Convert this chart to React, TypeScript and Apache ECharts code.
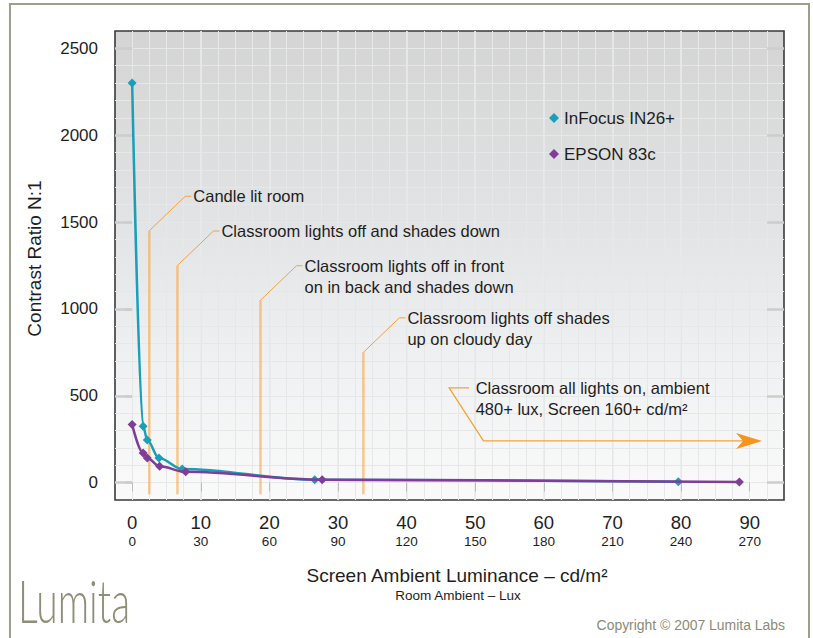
import React, { useEffect, useRef } from 'react';
import * as echarts from 'echarts';

// ---- data ----
const seriesNames = ['InFocus IN26+', 'EPSON 83c'];
const infocusX = [0, 1.6, 2.2, 3.9, 7.3, 26.6, 79.6];
const infocusY = [2300, 324, 246, 142, 79, 17, 5];
const epsonX = [0, 1.6, 2.2, 4.0, 7.8, 27.7, 88.5];
const epsonY = [334, 171, 142, 94, 62, 17, 3];

const xTicks = [0, 10, 20, 30, 40, 50, 60, 70, 80, 90];
const luxTicks = [0, 30, 60, 90, 120, 150, 180, 210, 240, 270];
const yTicks = [0, 500, 1000, 1500, 2000, 2500];

// annotation anchors (data units)
const noteX = [2.5, 6.6, 18.7, 33.7];
const noteTop = [1450, 1250, 1050, 750];
const noteBottom = -67;
const noteText = [
  'Candle lit room',
  'Classroom lights off and shades down',
  'Classroom lights off in front\non in back and shades down',
  'Classroom lights off shades\nup on cloudy day',
];
const arrowText = 'Classroom all lights on, ambient\n480+ lux, Screen 160+ cd/m\u00B2';
const arrowPathX = [49.1, 46.2, 51.2, 91.8];
const arrowPathY = [545, 545, 240, 240];

const FONT = '"Liberation Sans", Arial, Helvetica, sans-serif';
const TEAL = '#1a9fbb';
const PURPLE = '#7e3d98';
const TEXT = '#1e1e1e';
const GRIDLINE = '#e6e7e8';

export default function App() {
  const ref = useRef<HTMLDivElement>(null);

  useEffect(() => {
    if (!ref.current) return;
    const chart = echarts.init(ref.current, null, { renderer: 'svg' });

    const pairs = (xs: number[], ys: number[]) => xs.map((x, i) => [x, ys[i]]);

    const option: any = {
      animation: false,
      backgroundColor: '#ffffff',
      textStyle: { fontFamily: FONT },
      grid: {
        left: 115,
        top: 31,
        right: 29,
        bottom: 138,
        show: true,
        backgroundColor: new echarts.graphic.LinearGradient(0, 0, 0, 1, [
          { offset: 0, color: '#d4d4d4' },
          { offset: 0.4, color: '#e2e3e4' },
          { offset: 0.72, color: '#f0f1f2' },
          { offset: 1, color: '#fafafa' },
        ]),
        borderColor: '#3a3a3a',
        borderWidth: 1.6,
      },
      legend: {
        data: seriesNames,
        orient: 'vertical',
        left: 544,
        top: 103,
        icon: 'diamond',
        itemWidth: 10,
        itemHeight: 10,
        itemGap: 16,
        textStyle: { fontSize: 17, color: TEXT, fontFamily: FONT, lineHeight: 20 },
      },
      xAxis: [
        {
          type: 'value',
          min: -2.5,
          max: 95,
          position: 'bottom',
          axisLine: { show: false },
          axisTick: { show: true, customValues: xTicks, length: 9, lineStyle: { color: '#bcbcbc', width: 1 } },
          axisLabel: {
            customValues: xTicks,
            margin: 12,
            formatter: (v: number) => {
              const i = xTicks.indexOf(v);
              return `{a|${v}}\n{b|${i >= 0 ? luxTicks[i] : ''}}`;
            },
            rich: {
              a: { fontSize: 18.5, lineHeight: 21, color: TEXT, fontFamily: FONT },
              b: { fontSize: 13.5, lineHeight: 16, color: TEXT, fontFamily: FONT },
            },
          },
          splitLine: { show: true, showMinLine: false, showMaxLine: false, lineStyle: { color: '#e9eaeb', width: 1.6 } },
        },
        {
          type: 'value',
          min: -2.5,
          max: 95,
          interval: 2.5,
          position: 'bottom',
          axisLine: { show: false },
          axisTick: { show: false },
          axisLabel: { show: false },
          splitLine: { show: true, showMinLine: false, showMaxLine: false, lineStyle: { color: GRIDLINE, width: 1 } },
        },
      ],
      yAxis: [
        {
          type: 'value',
          min: -100,
          max: 2600,
          position: 'left',
          axisLine: { show: false },
          axisTick: { show: true, customValues: yTicks, length: 7, lineStyle: { color: '#cdcdcd', width: 2.5 } },
          axisLabel: {
            customValues: yTicks,
            margin: 17,
            fontSize: 17,
            color: TEXT,
            fontFamily: FONT,
            padding: [0, 0, 8, 0],
            formatter: (v: number) => String(v),
          },
          splitLine: { show: false },
        },
        {
          type: 'value',
          min: -100,
          max: 2600,
          interval: 100,
          position: 'left',
          axisLine: { show: false },
          axisTick: { show: false },
          axisLabel: { show: false },
          splitLine: { show: true, showMinLine: false, showMaxLine: false, lineStyle: { color: GRIDLINE, width: 1 } },
        },
        {
          type: 'value',
          min: -100,
          max: 2600,
          position: 'left',
          axisLine: { show: false },
          axisTick: { show: true, inside: true, customValues: yTicks, length: 17, lineStyle: { color: '#cdcdcd', width: 2.5 } },
          axisLabel: { show: false, customValues: yTicks },
          splitLine: { show: false },
        },
        {
          type: 'value',
          min: -100,
          max: 2600,
          position: 'right',
          axisLine: { show: false },
          axisTick: { show: true, inside: true, customValues: yTicks, length: 17, lineStyle: { color: '#cdcdcd', width: 2.5 } },
          axisLabel: { show: false, customValues: yTicks },
          splitLine: { show: false },
        },
      ],
      series: [
        {
          name: seriesNames[0],
          type: 'line',
          xAxisIndex: 0,
          yAxisIndex: 0,
          data: pairs(infocusX, infocusY),
          smooth: 0.35,
          smoothMonotone: 'x',
          symbol: 'diamond',
          symbolSize: 9,
          lineStyle: { width: 2.5, color: TEAL },
          itemStyle: { color: TEAL },
          z: 3,
        },
        {
          name: seriesNames[1],
          type: 'line',
          xAxisIndex: 0,
          yAxisIndex: 0,
          data: pairs(epsonX, epsonY),
          smooth: 0.35,
          smoothMonotone: 'x',
          symbol: 'diamond',
          symbolSize: 9,
          lineStyle: { width: 2.5, color: PURPLE },
          itemStyle: { color: PURPLE },
          z: 4,
        },
      ],
    };
    chart.setOption(option);

    const p = (x: number, y: number) =>
      chart.convertToPixel({ xAxisIndex: 0, yAxisIndex: 0 }, [x, y]) as number[];

    const g: any[] = [];
    g.push({
      type: 'rect',
      shape: { x: 10, y: 4, width: 799, height: 700 },
      style: { fill: 'none', stroke: '#9d9f88', lineWidth: 2 },
      silent: true,
      z: 0,
    });

    const noteStyle = {
      fontSize: 16.5,
      fontFamily: FONT,
      fill: TEXT,
      lineHeight: 21,
      textVerticalAlign: 'top',
      verticalAlign: 'top',
      textAlign: 'left',
      align: 'left',
    };

    noteX.forEach((x, i) => {
      const top = p(x, noteTop[i]);
      const bot = p(x, noteBottom);
      g.push({
        type: 'line',
        shape: { x1: top[0], y1: bot[1], x2: top[0], y2: top[1] },
        style: { stroke: 'rgba(249,158,55,0.55)', lineWidth: 2.5 },
        silent: true,
        z: 1,
      });
      const ex = top[0] + 36;
      const ey = top[1] - 34.5;
      g.push({
        type: 'polyline',
        shape: { points: [[top[0], top[1]], [ex, ey], [ex + 6, ey]] },
        style: { stroke: '#f5a138', lineWidth: 1, fill: null },
        silent: true,
        z: 1,
      });
      g.push({
        type: 'text',
        x: ex + 8,
        y: ey - 10.5,
        style: { ...noteStyle, text: noteText[i] },
        silent: true,
        z: 1,
      });
    });

    const ap = arrowPathX.map((x, i) => p(x, arrowPathY[i]));
    const tip = ap[3];
    g.push({
      type: 'polyline',
      shape: { points: [ap[0], ap[1], ap[2], [tip[0] - 18, tip[1]]] },
      style: { stroke: '#f5a138', lineWidth: 1.3, fill: null },
      silent: true,
      z: 1,
    });
    g.push({
      type: 'polygon',
      shape: {
        points: [
          [tip[0], tip[1]],
          [tip[0] - 26, tip[1] - 8],
          [tip[0] - 19, tip[1]],
          [tip[0] - 26, tip[1] + 8],
        ],
      },
      style: { fill: '#f7941d' },
      silent: true,
      z: 1,
    });
    g.push({
      type: 'text',
      x: ap[0][0] + 6.6,
      y: ap[0][1] - 10.5,
      style: { ...noteStyle, text: arrowText },
      silent: true,
      z: 1,
    });

    // axis titles
    g.push({
      type: 'text',
      x: 34,
      y: 258.5,
      rotation: Math.PI / 2,
      style: {
        text: 'Contrast Ratio N:1',
        fontSize: 19,
        fontFamily: FONT,
        fill: TEXT,
        textAlign: 'center',
        align: 'center',
        textVerticalAlign: 'middle',
        verticalAlign: 'middle',
      },
      silent: true,
    });
    g.push({
      type: 'text',
      x: 457,
      y: 575,
      style: {
        text: 'Screen Ambient Luminance \u2013 cd/m\u00B2',
        fontSize: 19,
        fontFamily: FONT,
        fill: TEXT,
        textAlign: 'center',
        align: 'center',
        textVerticalAlign: 'middle',
        verticalAlign: 'middle',
      },
      silent: true,
    });
    g.push({
      type: 'text',
      x: 458,
      y: 595,
      style: {
        text: 'Room Ambient \u2013 Lux',
        fontSize: 13.5,
        fontFamily: FONT,
        fill: TEXT,
        textAlign: 'center',
        align: 'center',
        textVerticalAlign: 'middle',
        verticalAlign: 'middle',
      },
      silent: true,
    });
    // logo and copyright
    g.push({
      type: 'text',
      x: 18,
      y: 600,
      scaleX: 0.65,
      style: {
        text: 'Lumita',
        fontSize: 60,
        fontWeight: 300,
        fontFamily: 'Lato, "Open Sans", sans-serif',
        fill: '#8e8f76',
        textAlign: 'left',
        align: 'left',
        textVerticalAlign: 'middle',
        verticalAlign: 'middle',
      },
      silent: true,
    });
    g.push({
      type: 'text',
      x: 785,
      y: 625,
      scaleX: 0.93,
      style: {
        text: 'Copyright \u00A9 2007 Lumita Labs',
        fontSize: 15,
        fontFamily: FONT,
        fill: '#8a8b78',
        textAlign: 'right',
        align: 'right',
        textVerticalAlign: 'middle',
        verticalAlign: 'middle',
      },
      silent: true,
    });

    chart.setOption({ graphic: { elements: g } });

    return () => chart.dispose();
  }, []);

  return (
    <div
      ref={ref}
      style={{ position: 'fixed', left: 0, top: 0, width: 813, height: 638, background: '#fff' }}
    />
  );
}
